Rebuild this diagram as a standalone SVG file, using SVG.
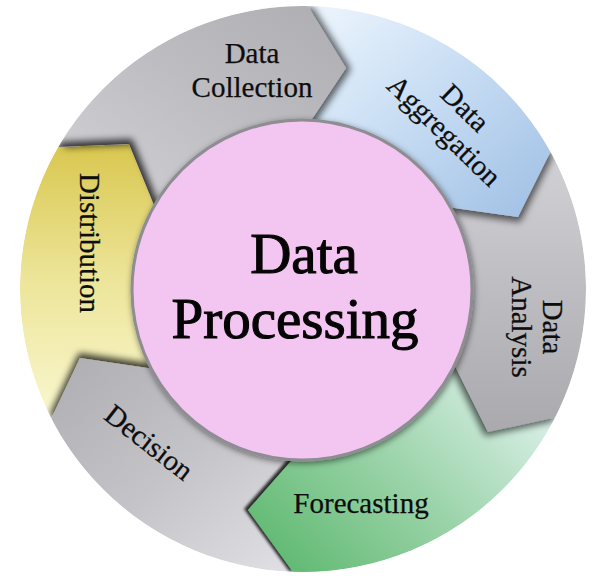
<svg xmlns="http://www.w3.org/2000/svg" width="602" height="578" viewBox="0 0 602 578">
<style>
.lbl{font-family:"Liberation Serif","Times New Roman",serif;font-size:29px;fill:#0d0d0d;text-anchor:middle;stroke:#0d0d0d;stroke-width:0.25}
.title{font-family:"Liberation Serif","Times New Roman",serif;font-size:57px;fill:#050505;text-anchor:middle;stroke:#050505;stroke-width:1.1}
</style>
<defs>
<linearGradient id="gCol" x1="0" y1="1" x2="1" y2="0"><stop offset="0" stop-color="#d4d3d8"/><stop offset="0.55" stop-color="#bdbcc1"/><stop offset="1" stop-color="#aeadb2"/></linearGradient>
<linearGradient id="gAgg" x1="0" y1="0" x2="1" y2="1"><stop offset="0" stop-color="#eef6fd"/><stop offset="0.45" stop-color="#c9def4"/><stop offset="1" stop-color="#9fbfe4"/></linearGradient>
<linearGradient id="gAna" x1="0" y1="0" x2="0" y2="1"><stop offset="0" stop-color="#d2d1d6"/><stop offset="0.5" stop-color="#bdbcc1"/><stop offset="1" stop-color="#aaa9ae"/></linearGradient>
<linearGradient id="gFor" x1="0" y1="0.8" x2="1" y2="0.1"><stop offset="0" stop-color="#62ba73"/><stop offset="0.45" stop-color="#9ad3a8"/><stop offset="1" stop-color="#e6f5f4"/></linearGradient>
<linearGradient id="gDec" x1="0" y1="0" x2="1" y2="1"><stop offset="0" stop-color="#aeadb2"/><stop offset="0.5" stop-color="#c4c3c8"/><stop offset="1" stop-color="#e2e2e6"/></linearGradient>
<linearGradient id="gDis" x1="0" y1="0" x2="0" y2="1"><stop offset="0" stop-color="#d9c74f"/><stop offset="0.5" stop-color="#ede59a"/><stop offset="1" stop-color="#f9f7cf"/></linearGradient>
<filter id="shCol" x="-20%" y="-20%" width="140%" height="140%"><feDropShadow dx="5" dy="1" stdDeviation="3.5" flood-color="#000" flood-opacity="0.6"/></filter>
<filter id="shAgg" x="-20%" y="-20%" width="140%" height="140%"><feDropShadow dx="2" dy="5" stdDeviation="3.5" flood-color="#000" flood-opacity="0.6"/></filter>
<filter id="shAna" x="-20%" y="-20%" width="140%" height="140%"><feDropShadow dx="-3" dy="4" stdDeviation="3.5" flood-color="#000" flood-opacity="0.6"/></filter>
<filter id="shFor" x="-20%" y="-20%" width="140%" height="140%"><feDropShadow dx="-4" dy="-1" stdDeviation="1.5" flood-color="#000" flood-opacity="0.8"/></filter>
<filter id="shDec" x="-20%" y="-20%" width="140%" height="140%"><feDropShadow dx="-1" dy="-5" stdDeviation="3.5" flood-color="#000" flood-opacity="0.75"/></filter>
<filter id="shDisOnly" x="-20%" y="-20%" width="140%" height="140%"><feGaussianBlur in="SourceAlpha" stdDeviation="3.5"/><feOffset dx="3" dy="-5" result="b"/><feFlood flood-color="#000" flood-opacity="0.75"/><feComposite in2="b" operator="in"/></filter>
<filter id="shCenter" x="-10%" y="-10%" width="120%" height="120%"><feDropShadow dx="1" dy="2" stdDeviation="3" flood-color="#000" flood-opacity="0.5"/></filter>
<path id="pDis" d="M51.3,418.4 A283,283 0 0 1 58,147 L129,144 L157.7,213.9 L162.8,370.2 L80,358 Z"/>
<clipPath id="clipCol"><path d="M58,147 A283,283 0 0 1 307.9,6 L346,68 L303.7,131.5 L157.7,213.9 L129,144 Z"/></clipPath>
<clipPath id="clipRing"><circle cx="303" cy="289" r="283"/></clipPath>
</defs>
<rect width="602" height="578" fill="#ffffff"/>
<g clip-path="url(#clipRing)">
<g id="node-distribution">
<use href="#pDis" fill="url(#gDis)"/>
<text class="lbl" transform="translate(80,243) rotate(90)">Distribution</text>
</g>
<g id="node-decision">
<path d="M293,572 A283,283 0 0 1 51.3,418.4 L80,358 L162.8,370.2 L301.9,448.8 L248,510 Z" fill="url(#gDec)" filter="url(#shDec)"/>
<text class="lbl" transform="translate(143,450) rotate(38)">Decision</text>
</g>
<g id="node-forecasting">
<path d="M555.2,417.5 A283,283 0 0 1 293,572 L248,510 L301.9,448.8 L451.3,358.6 L488,432 Z" fill="url(#gFor)" filter="url(#shFor)"/>
<text class="lbl" x="361" y="513">Forecasting</text>
</g>
<g id="node-analysis">
<path d="M550.5,151.8 A283,283 0 0 1 555.2,417.5 L488,432 L451.3,358.6 L440.2,205.9 L518,217 Z" fill="url(#gAna)" filter="url(#shAna)"/>
<text class="lbl" transform="translate(543,327) rotate(90)">Data</text>
<text class="lbl" transform="translate(512,327) rotate(90)">Analysis</text>
</g>
<g id="node-aggregation">
<path d="M307.9,6 A283,283 0 0 1 550.5,151.8 L518,217 L440.2,205.9 L303.7,131.5 L346,68 Z" fill="url(#gAgg)" filter="url(#shAgg)"/>
<text class="lbl" transform="translate(458.4,114.8) rotate(44)">Data</text>
<text class="lbl" transform="translate(437.5,137.7) rotate(44)">Aggregation</text>
</g>
<g id="node-collection">
<path d="M58,147 A283,283 0 0 1 307.9,6 L346,68 L303.7,131.5 L157.7,213.9 L129,144 Z" fill="url(#gCol)" filter="url(#shCol)"/>
<use href="#pDis" fill="#000" filter="url(#shDisOnly)" clip-path="url(#clipCol)"/>
<text class="lbl" x="252" y="63">Data</text>
<text class="lbl" x="252" y="97">Collection</text>
</g>
</g>
<g id="connectors"></g>
<g id="node-center">
<circle cx="302" cy="290" r="170" fill="#f3c5f1" stroke="#8e8d92" stroke-width="3" filter="url(#shCenter)"/>
<text class="title" x="304" y="273">Data</text>
<text class="title" x="295" y="338">Processing</text>
</g>
</svg>
